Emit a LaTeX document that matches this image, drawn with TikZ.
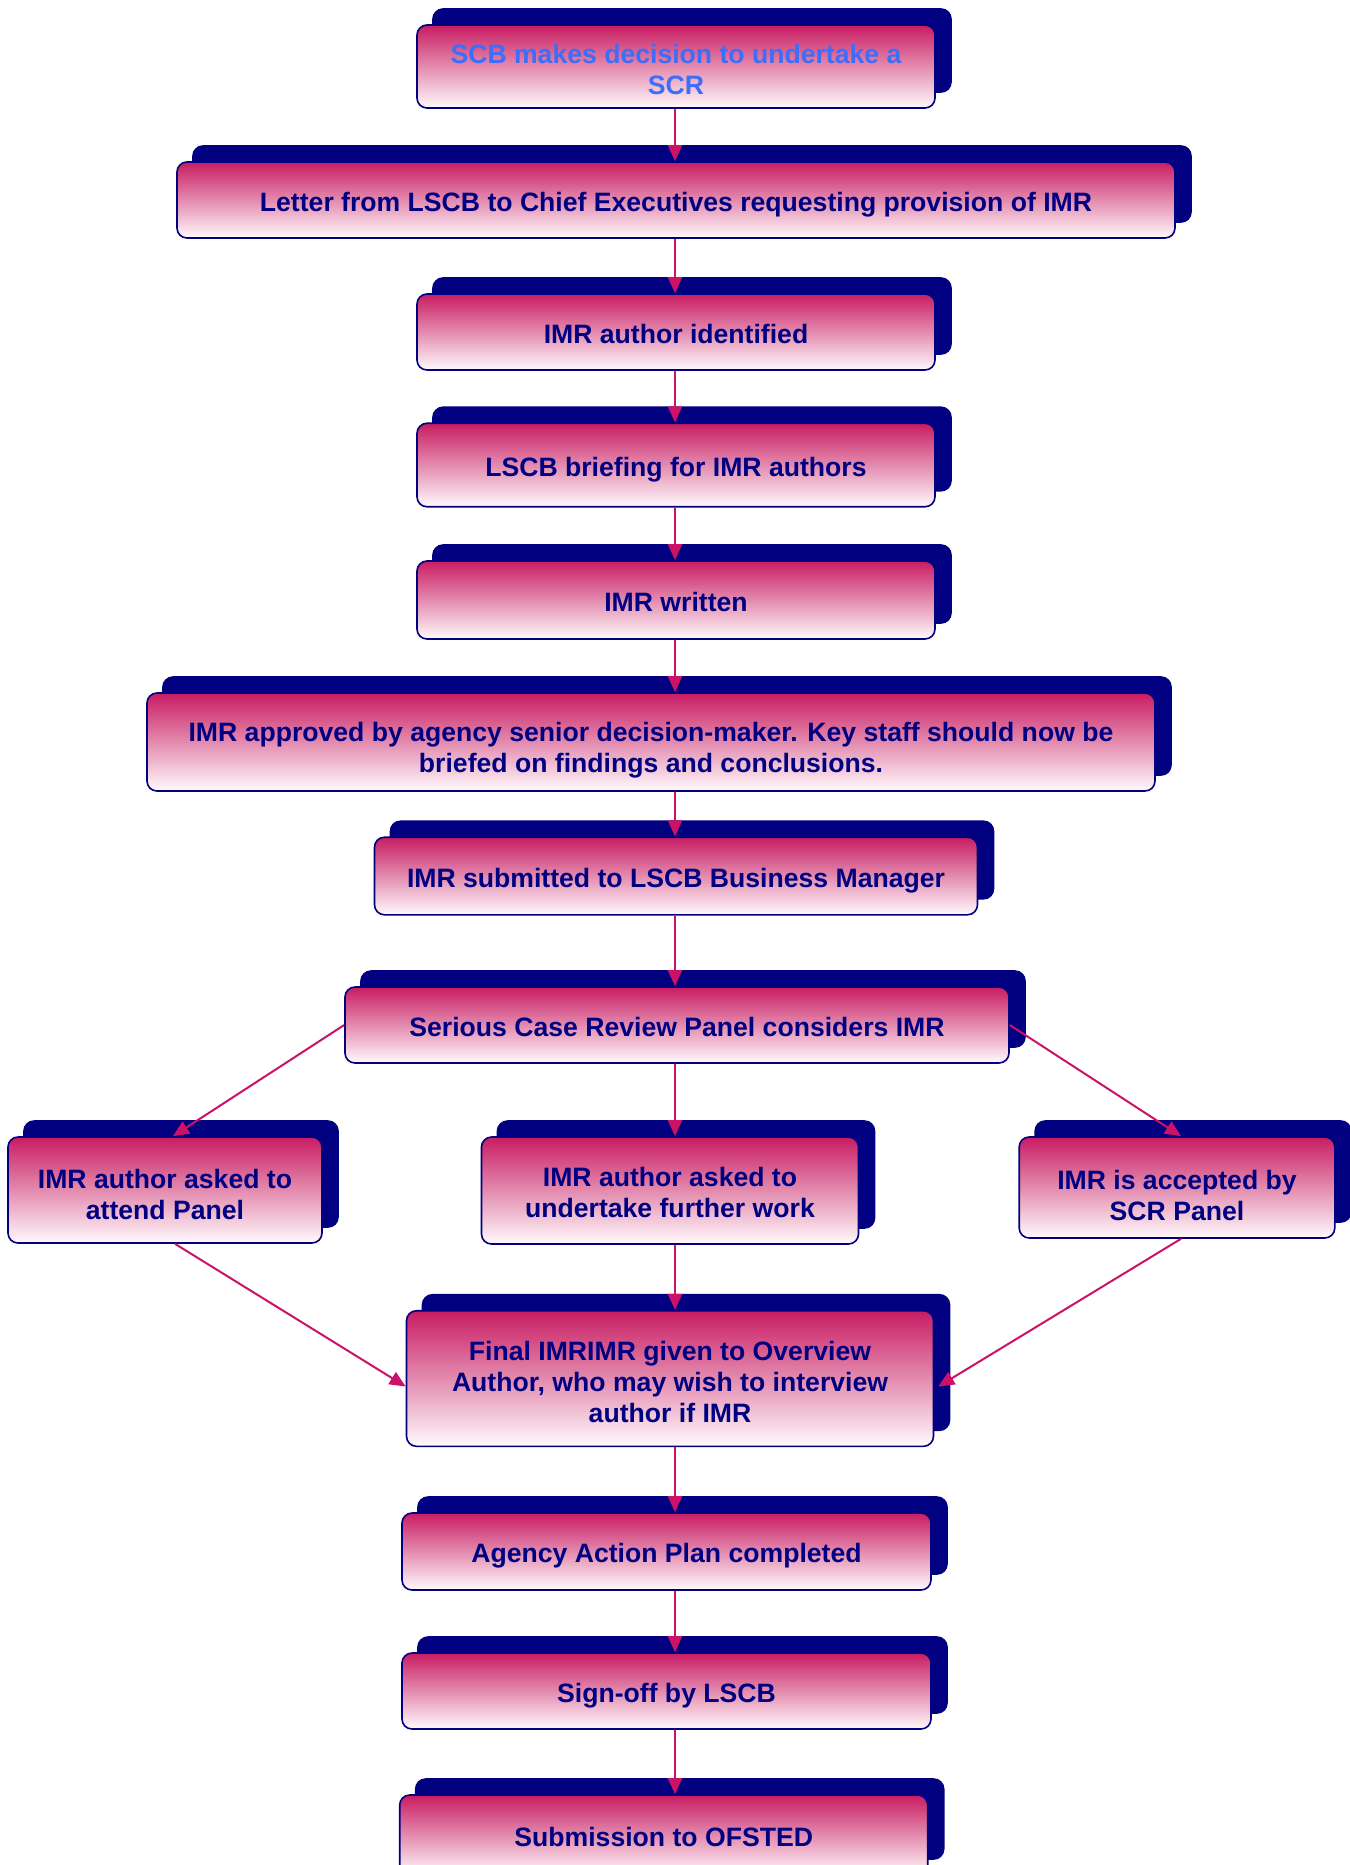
\documentclass[tikz,border=0pt]{standalone}
\usepackage{fontspec}
\setmainfont{Liberation Sans}
\usetikzlibrary{arrows.meta,shadows}
\definecolor{navyb}{RGB}{0,0,128}
\definecolor{magline}{RGB}{204,17,102}
\definecolor{topmag}{RGB}{200,28,98}
\definecolor{botwhite}{RGB}{255,250,252}
\definecolor{lightblue}{RGB}{60,110,250}
\begin{document}
\begin{tikzpicture}[x=0.5pt,y=-0.5pt,
  box/.style={rectangle, rounded corners=5pt, draw=navyb, line width=0.8pt,
    top color=topmag, bottom color=botwhite, text=navyb,
    font=\fontsize{13.3}{15.5}\selectfont\bfseries, align=center, inner sep=0pt,
    execute at begin node={\rule{0pt}{14pt}},
    execute at end node={\rule[-3pt]{0pt}{3pt}},
    general shadow={fill=navyb, draw=navyb, shadow xshift=8pt, shadow yshift=8pt}},
  ml/.style={execute at begin node={\rule{0pt}{#1}}},
  arr/.style={draw=magline, line width=1pt, -{Triangle[length=8pt,width=7pt]}}]
\useasboundingbox (0,0) rectangle (1350,1865);
\clip (0,0) rectangle (1350,1865);
\coordinate (spine) at (675,0);

\node[box, ml=30.6pt, minimum width=259pt, minimum height=41.5pt, text=lightblue] (scb) at (676,66.5) {SCB makes decision to undertake a\\SCR};
\node[box, minimum width=499pt, minimum height=38pt] (letter) at (676,200) {Letter from LSCB to Chief Executives requesting provision of IMR};
\node[box, minimum width=259pt, minimum height=38pt] (ident) at (676,332) {IMR author identified};
\node[box, minimum width=259pt, minimum height=41.75pt] (brief) at (676,465) {LSCB briefing for IMR authors};
\node[box, minimum width=259pt, minimum height=39pt] (written) at (676,600) {IMR written};
\node[box, ml=33.6pt, minimum width=504pt, minimum height=49pt] (approved) at (651,742) {IMR approved by agency senior decision-maker. Key staff should now be\\briefed on findings and conclusions.};
\node[box, minimum width=301.5pt, minimum height=38.8pt] (submitted) at (676,876) {IMR submitted to LSCB Business Manager};
\node[box, minimum width=332pt, minimum height=38pt] (panel) at (677,1025) {Serious Case Review Panel considers IMR};
\node[box, ml=32.4pt, minimum width=157pt, minimum height=53pt] (leftb) at (165,1190) {IMR author asked to\\attend Panel};
\node[box, ml=30pt, minimum width=188.5pt, minimum height=53.5pt] (midb) at (670,1190.5) {IMR author asked to\\undertake further work};
\node[box, ml=36pt, minimum width=157.8pt, minimum height=50.5pt] (rightb) at (1177,1187.5) {IMR is accepted by\\SCR Panel};
\node[box, ml=47.3pt, minimum width=263.5pt, minimum height=67.8pt] (final) at (670,1378.5) {Final IMRIMR given to Overview\\Author, who may wish to interview\\author if IMR};
\node[box, minimum width=264.5pt, minimum height=38.5pt] (agency) at (666.5,1551.5) {Agency Action Plan completed};
\node[box, minimum width=264.5pt, minimum height=38pt] (signoff) at (666.5,1691) {Sign-off by LSCB};
\node[box, minimum width=264pt, minimum height=40pt] (ofsted) at (663.7,1835) {Submission to OFSTED};

\draw[arr] (scb.south -| spine) -- (letter.north -| spine);
\draw[arr] (letter.south -| spine) -- (ident.north -| spine);
\draw[arr] (ident.south -| spine) -- (brief.north -| spine);
\draw[arr] (brief.south -| spine) -- (written.north -| spine);
\draw[arr] (written.south -| spine) -- (approved.north -| spine);
\draw[arr] (approved.south -| spine) -- (submitted.north -| spine);
\draw[arr] (submitted.south -| spine) -- (panel.north -| spine);
\draw[arr] (panel.south -| spine) -- (midb.north -| spine);
\draw[arr] (panel.west) -- ([xshift=4pt]leftb.north);
\draw[arr] (panel.east) -- ([xshift=2pt]rightb.north);
\draw[arr] ([xshift=5pt]leftb.south) -- ([yshift=-4pt]final.west);
\draw[arr] ([xshift=2pt]rightb.south) -- ([xshift=2pt,yshift=-4pt]final.east);
\draw[arr] (midb.south -| spine) -- (final.north -| spine);
\draw[arr] (final.south -| spine) -- (agency.north -| spine);
\draw[arr] (agency.south -| spine) -- (signoff.north -| spine);
\draw[arr] (signoff.south -| spine) -- (ofsted.north -| spine);
\end{tikzpicture}
\end{document}
